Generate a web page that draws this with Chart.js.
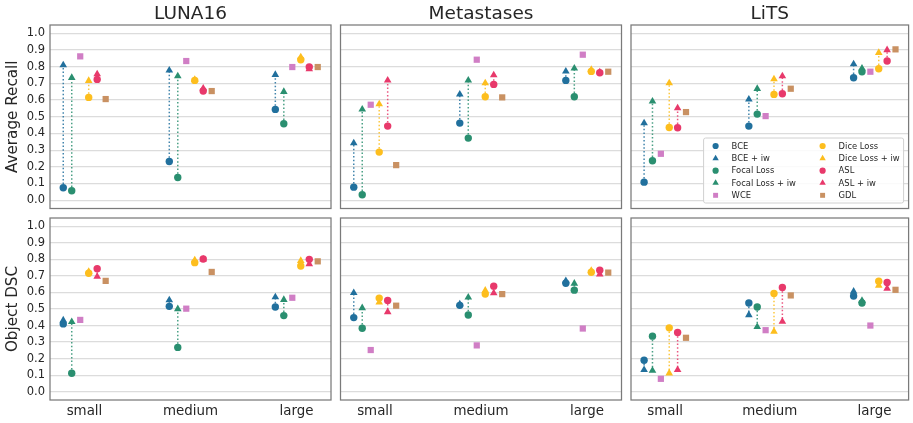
<!DOCTYPE html>
<html><head><meta charset="utf-8">
<script src="https://cdn.jsdelivr.net/npm/chart.js@4"></script>
<style>
html,body{margin:0;padding:0;background:#fff;}
#wrap{position:relative;width:913px;height:423px;overflow:hidden;background:#fff;}
canvas{position:absolute;left:0;top:0;}
</style></head><body><div id="wrap"></div>
<script>
// ---------------- data ----------------
const categories = ['small', 'medium', 'large'];
const yTicks = [0.0, 0.1, 0.2, 0.3, 0.4, 0.5, 0.6, 0.7, 0.8, 0.9, 1.0];
const panelTitles = ['LUNA16', 'Metastases', 'LiTS'];
const rowLabels = ['Average Recall', 'Object DSC'];
const seriesNames = ['BCE', 'BCE + iw', 'Focal Loss', 'Focal Loss + iw', 'WCE',
                     'Dice Loss', 'Dice Loss + iw', 'ASL', 'ASL + iw', 'GDL'];

// LUNA16 - Average Recall
const lunaRecBCE      = [0.074, 0.232, 0.544];
const lunaRecBCEiw    = [0.810, 0.778, 0.752];
const lunaRecFocal    = [0.056, 0.136, 0.458];
const lunaRecFocaliw  = [0.734, 0.744, 0.650];
const lunaRecWCE      = [0.862, 0.834, 0.798];
const lunaRecDice     = [0.616, 0.718, 0.842];
const lunaRecDiceiw   = [0.716, 0.722, 0.858];
const lunaRecASL      = [0.724, 0.654, 0.798];
const lunaRecASLiw    = [0.756, 0.670, 0.786];
const lunaRecGDL      = [0.606, 0.654, 0.798];

// Metastases - Average Recall
const metaRecBCE      = [0.078, 0.462, 0.718];
const metaRecBCEiw    = [0.342, 0.634, 0.772];
const metaRecFocal    = [0.032, 0.372, 0.620];
const metaRecFocaliw  = [0.544, 0.718, 0.790];
const metaRecWCE      = [0.572, 0.842, 0.872];
const metaRecDice     = [0.288, 0.620, 0.772];
const metaRecDiceiw   = [0.576, 0.702, 0.782];
const metaRecASL      = [0.444, 0.694, 0.764];
const metaRecASLiw    = [0.718, 0.750, 0.768];
const metaRecGDL      = [0.210, 0.616, 0.770];

// LiTS - Average Recall
const litsRecBCE      = [0.108, 0.444, 0.734];
const litsRecBCEiw    = [0.462, 0.604, 0.816];
const litsRecFocal    = [0.236, 0.516, 0.770];
const litsRecFocaliw  = [0.592, 0.668, 0.790];
const litsRecWCE      = [0.278, 0.504, 0.770];
const litsRecDice     = [0.436, 0.634, 0.788];
const litsRecDiceiw   = [0.702, 0.726, 0.884];
const litsRecASL      = [0.434, 0.638, 0.834];
const litsRecASLiw    = [0.552, 0.744, 0.900];
const litsRecGDL      = [0.528, 0.668, 0.904];

// LUNA16 - Object DSC
const lunaDscBCE      = [0.410, 0.516, 0.512];
const lunaDscBCEiw    = [0.432, 0.554, 0.572];
const lunaDscFocal    = [0.112, 0.268, 0.460];
const lunaDscFocaliw  = [0.422, 0.500, 0.556];
const lunaDscWCE      = [0.434, 0.502, 0.568];
const lunaDscDice     = [0.716, 0.780, 0.760];
const lunaDscDiceiw   = [0.726, 0.796, 0.792];
const lunaDscASL      = [0.744, 0.802, 0.800];
const lunaDscASLiw    = [0.696, 0.800, 0.772];
const lunaDscGDL      = [0.670, 0.724, 0.788];

// Metastases - Object DSC
const metaDscBCE      = [0.448, 0.522, 0.656];
const metaDscBCEiw    = [0.598, 0.530, 0.670];
const metaDscFocal    = [0.384, 0.464, 0.614];
const metaDscFocaliw  = [0.506, 0.570, 0.654];
const metaDscWCE      = [0.252, 0.280, 0.382];
const metaDscDice     = [0.566, 0.590, 0.722];
const metaDscDiceiw   = [0.540, 0.612, 0.732];
const metaDscASL      = [0.552, 0.638, 0.734];
const metaDscASLiw    = [0.482, 0.596, 0.710];
const metaDscGDL      = [0.520, 0.590, 0.720];

// LiTS - Object DSC
const litsDscBCE      = [0.190, 0.536, 0.578];
const litsDscBCEiw    = [0.132, 0.464, 0.606];
const litsDscFocal    = [0.336, 0.512, 0.536];
const litsDscFocaliw  = [0.128, 0.392, 0.550];
const litsDscWCE      = [0.078, 0.372, 0.400];
const litsDscDice     = [0.386, 0.594, 0.668];
const litsDscDiceiw   = [0.112, 0.364, 0.642];
const litsDscASL      = [0.358, 0.630, 0.660];
const litsDscASLiw    = [0.132, 0.424, 0.624];
const litsDscGDL      = [0.326, 0.582, 0.616];

// ---------------- styling ----------------
const methodColors = ['#21709d', '#2a8f70', '#d07ec5', '#fdbe1e', '#e8396b', '#c99162'];
const methodOffset = [-0.2, -0.12, -0.04, 0.04, 0.12, 0.2];
// series -> method index and marker
const seriesMethod = [0, 0, 1, 1, 2, 3, 3, 4, 4, 5];
const seriesStyle  = ['circle', 'triangle', 'circle', 'triangle', 'rect',
                      'circle', 'triangle', 'circle', 'triangle', 'rect'];
const styleRadius = {circle: 3.7, triangle: 4.4, rect: 4.4};
const legendRadius = {circle: 3.1, triangle: 3.7, rect: 3.5};
const pairs = [[0, 1], [2, 3], [5, 6], [7, 8]];  // base -> +iw connections

const panels = [
  [[lunaRecBCE, lunaRecBCEiw, lunaRecFocal, lunaRecFocaliw, lunaRecWCE, lunaRecDice, lunaRecDiceiw, lunaRecASL, lunaRecASLiw, lunaRecGDL],
   [metaRecBCE, metaRecBCEiw, metaRecFocal, metaRecFocaliw, metaRecWCE, metaRecDice, metaRecDiceiw, metaRecASL, metaRecASLiw, metaRecGDL],
   [litsRecBCE, litsRecBCEiw, litsRecFocal, litsRecFocaliw, litsRecWCE, litsRecDice, litsRecDiceiw, litsRecASL, litsRecASLiw, litsRecGDL]],
  [[lunaDscBCE, lunaDscBCEiw, lunaDscFocal, lunaDscFocaliw, lunaDscWCE, lunaDscDice, lunaDscDiceiw, lunaDscASL, lunaDscASLiw, lunaDscGDL],
   [metaDscBCE, metaDscBCEiw, metaDscFocal, metaDscFocaliw, metaDscWCE, metaDscDice, metaDscDiceiw, metaDscASL, metaDscASLiw, metaDscGDL],
   [litsDscBCE, litsDscBCEiw, litsDscFocal, litsDscFocaliw, litsDscWCE, litsDscDice, litsDscDiceiw, litsDscASL, litsDscASLiw, litsDscGDL]]
];

const W = 913, H = 423;
const colBounds = [[50, 331], [340.5, 621.5], [631, 912]];
const rowBounds = [[25, 208.5], [218, 400]];
const FONT = "'DejaVu Sans', sans-serif";
const TEXT = '#262626';

function hexA(hex, a) {
  const n = parseInt(hex.slice(1), 16);
  return `rgba(${(n >> 16) & 255},${(n >> 8) & 255},${n & 255},${a})`;
}

const framePlugin = {
  id: 'frame',
  beforeDatasetsDraw(chart) {
    const {ctx, chartArea: a} = chart;
    ctx.save();
    ctx.strokeStyle = '#7a7a7a';
    ctx.lineWidth = 1.25;
    ctx.strokeRect(a.left, a.top, a.right - a.left, a.bottom - a.top);
    ctx.restore();
  }
};

const legendPlugin = {
  id: 'lossLegend',
  afterDatasetsDraw(chart, args, opts) {
    if (!opts.show) return;
    const {ctx, chartArea: a} = chart;
    const bw = 200, bh = 65;
    const bx = a.right - 5 - bw, by = a.bottom - 5.5 - bh;
    ctx.save();
    ctx.beginPath();
    ctx.roundRect(bx, by, bw, bh, 2);
    ctx.fillStyle = 'rgba(255,255,255,0.85)';
    ctx.fill();
    ctx.strokeStyle = '#d0d0d0';
    ctx.lineWidth = 1;
    ctx.stroke();
    ctx.font = `8.4px ${FONT}`;
    ctx.textBaseline = 'middle';
    ctx.textAlign = 'left';
    seriesNames.forEach((name, k) => {
      const col = Math.floor(k / 5), row = k % 5;
      const mx = bx + 12 + col * 107, my = by + 8 + row * 12.33;
      const st = seriesStyle[k];
      ctx.fillStyle = methodColors[seriesMethod[k]];
      ctx.strokeStyle = methodColors[seriesMethod[k]];
      Chart.helpers.drawPoint(ctx, {pointStyle: st, radius: legendRadius[st], rotation: 0, borderWidth: 0}, mx, my);
      ctx.fillStyle = TEXT;
      ctx.fillText(name, mx + 16, my + 0.5);
    });
    ctx.restore();
  }
};

const wrap = document.getElementById('wrap');
for (let r = 0; r < 2; r++) {
  for (let c = 0; c < 3; c++) {
    const series = panels[r][c];
    const [L, R] = colBounds[c];
    const [T, B] = rowBounds[r];
    const yW = c === 0 ? 50 : 0;
    const xH = r === 0 ? T : (H - B);

    const datasets = [];
    pairs.forEach(([b, w]) => {
      const m = seriesMethod[b];
      const pts = [];
      categories.forEach((_, i) => {
        const x = i + methodOffset[m];
        pts.push({x, y: series[b][i]}, {x, y: series[w][i]}, {x, y: null});
      });
      datasets.push({
        type: 'line', data: pts, borderColor: hexA(methodColors[m], 0.85),
        borderWidth: 1.5, borderDash: [1.5, 2.2], pointRadius: 0, fill: false,
        spanGaps: false, tension: 0, order: 50, clip: false
      });
    });
    seriesNames.forEach((name, k) => {
      const m = seriesMethod[k];
      datasets.push({
        type: 'scatter', label: name,
        data: categories.map((_, i) => ({x: i + methodOffset[m], y: series[k][i]})),
        pointStyle: seriesStyle[k], pointRadius: styleRadius[seriesStyle[k]],
        backgroundColor: methodColors[m], borderColor: methodColors[m], borderWidth: 0,
        order: 10 - k, clip: false
      });
    });

    const cv = document.createElement('canvas');
    cv.width = W; cv.height = H;
    cv.style.width = W + 'px'; cv.style.height = H + 'px';
    wrap.appendChild(cv);

    new Chart(cv, {
      type: 'scatter',
      data: {datasets},
      plugins: [framePlugin, legendPlugin],
      options: {
        responsive: false, animation: false, events: [],
        layout: {padding: {left: L - yW, right: W - R, top: r === 0 ? 0 : T, bottom: r === 0 ? H - B : 0}},
        plugins: {legend: {display: false}, tooltip: {enabled: false},
                  lossLegend: {show: r === 0 && c === 2}},
        scales: {
          x: {
            type: 'linear', position: r === 0 ? 'top' : 'bottom',
            min: -0.325, max: 2.325,
            afterBuildTicks: s => { s.ticks = categories.map((_, i) => ({value: i})); },
            afterFit: s => { s.height = xH; },
            grid: {display: false, drawTicks: false},
            border: {display: false},
            ticks: {display: r === 1, autoSkip: false, maxRotation: 0, padding: 3,
                    color: TEXT, font: {family: FONT, size: 13.4},
                    callback: v => categories[v]},
            title: {display: r === 0, text: panelTitles[c], color: TEXT,
                    font: {family: FONT, size: 18.5, lineHeight: 1.1},
                    padding: {top: 3.8, bottom: 0}}
          },
          y: {
            type: 'linear', position: 'left', min: -0.05, max: 1.05,
            afterBuildTicks: s => { s.ticks = yTicks.map(v => ({value: v})); },
            afterFit: s => { s.width = yW; },
            grid: {color: '#dcdcdc', lineWidth: 1.2, drawTicks: false},
            border: {display: false},
            ticks: {display: c === 0, padding: 5, color: TEXT,
                    font: {family: FONT, size: 11.5},
                    callback: v => v.toFixed(1)},
            title: {display: c === 0, text: rowLabels[r], color: TEXT,
                    font: {family: FONT, size: 15.2, lineHeight: 1.2},
                    padding: {top: 4.2, bottom: 0}}
          }
        }
      }
    });
  }
}
</script>
</body></html>
